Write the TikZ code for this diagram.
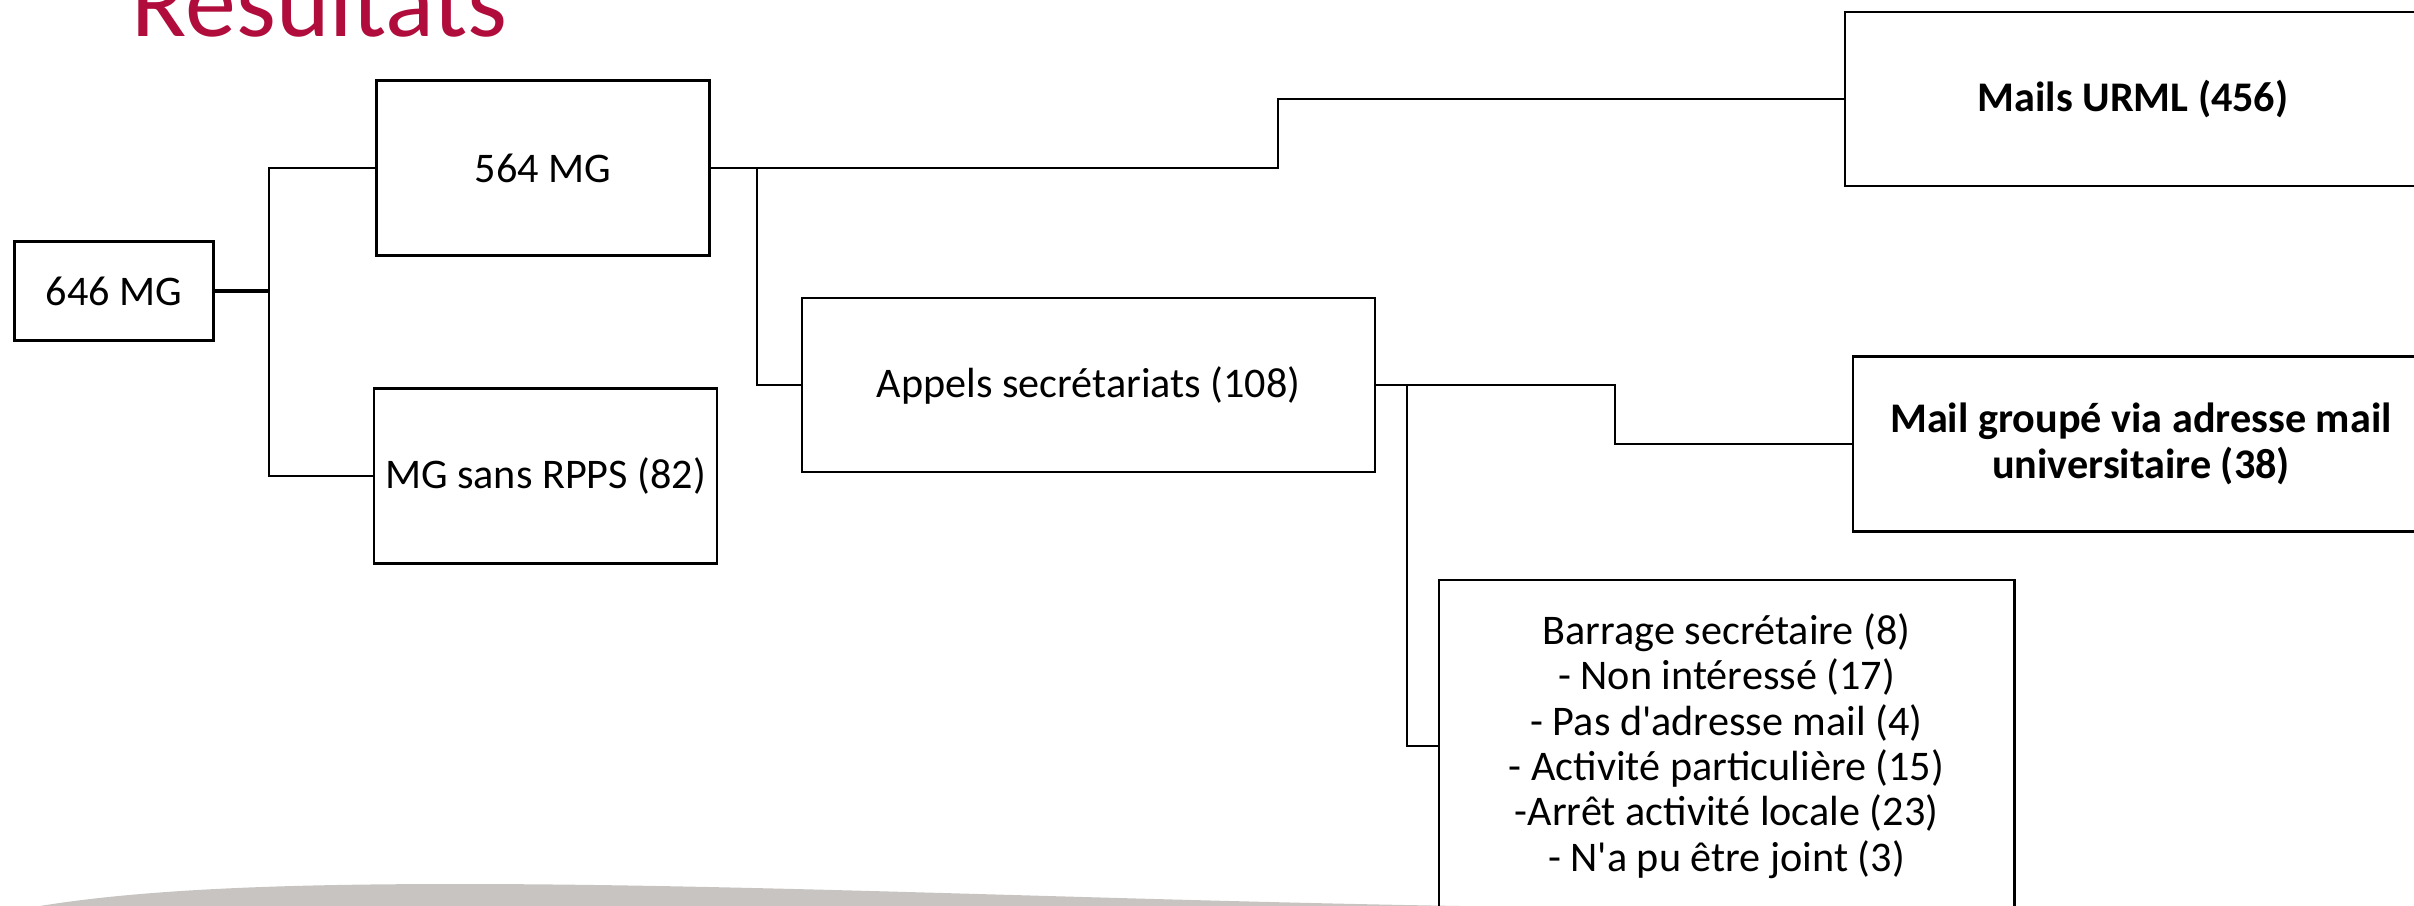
\documentclass[tikz,border=0pt]{standalone}
\usepackage{fontspec}
\setmainfont{Carlito}[Ligatures=TeXOff]
\definecolor{titlered}{RGB}{176,12,60}
\definecolor{swoosh}{RGB}{200,196,193}
\begin{document}
\begin{tikzpicture}[x=0.01cm,y=-0.01cm,
  box/.style={draw, line width=0.75pt, inner sep=0pt, align=center, font=\fontsize{12}{12.9}\selectfont},
  conn/.style={line width=0.65pt}]
\useasboundingbox (0,0) rectangle (2414,906);
% slide decoration
\fill[swoosh] (40,906) .. controls (150,888) and (300,884) .. (460,884) .. controls (750,884) and (1100,900) .. (1460,906) -- cycle;
% title
\node[anchor=base west, inner sep=0pt, text=titlered, font=\fontsize{29}{30}\selectfont] (title) at (131,37) {Résultats};
% boxes
\node[box, minimum width=19.9mm, minimum height=9.9mm] (n646) at (114,291) {646 MG};
\node[box, minimum width=33.3mm, minimum height=17.5mm] (n564) at (543,168) {564 MG};
\node[box, minimum width=34.3mm, minimum height=17.5mm] (nrpps) at (545.5,476) {MG sans RPPS (82)};
\node[box, minimum width=57.3mm, minimum height=17.4mm] (napp) at (1088.5,385) {Appels secrétariats (108)};
\node[box, minimum width=57.6mm, minimum height=17.4mm] (nurml) at (2133,99) {\textbf{Mails URML (456)}};
\node[box, minimum width=57.6mm, minimum height=17.5mm] (ngrp) at (2141,444) {\textbf{Mail groupé via adresse mail}\\\textbf{universitaire (38)}};
\node[box, minimum width=57.5mm, minimum height=33.2mm] (nbar) at (1726.5,746) {Barrage secrétaire (8)\\- Non intéressé (17)\\- Pas d'adresse mail (4)\\- Activité particulière (15)\\-Arrêt activité locale (23)\\- N'a pu être joint (3)};
% junctions
\coordinate (j1) at (269,291);
\coordinate (j2) at (757,168);
\coordinate (j3) at (1278,168);
\coordinate (j4) at (1407,385);
\coordinate (j5) at (1615,385);
% connectors
\draw[conn, line width=1pt] (n646.east) -- (j1);
\draw[conn] (n564.west) -| (j1) |- (nrpps.west);
\draw[conn] (n564.east) -- (j3) |- (nurml.west);
\draw[conn] (j2) |- (napp.west);
\draw[conn] (napp.east) -- (j5) |- (ngrp.west);
\draw[conn] (j4) |- (nbar.west);
\end{tikzpicture}
\end{document}
